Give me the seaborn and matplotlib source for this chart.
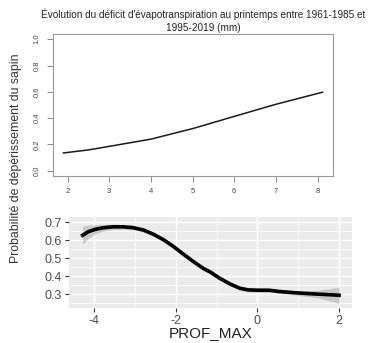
import numpy as np
import pandas as pd
import seaborn as sns
import matplotlib.pyplot as plt

# top panel : effet du deficit d'evapotranspiration
deficit_x = [1.9, 2.5, 3.0, 4.0, 5.0, 6.0, 7.0, 8.12]
deficit_p = [0.135, 0.158, 0.185, 0.24, 0.32, 0.413, 0.505, 0.597]
top_xticks = [2, 3, 4, 5, 6, 7, 8]
top_yticks = [0.0, 0.2, 0.4, 0.6, 0.8, 1.0]

# bottom panel : effet de PROF_MAX (lissage + intervalle)
prof_x = [-4.28, -4.14, -3.97, -3.77, -3.53, -3.28, -3.04, -2.79, -2.55, -2.30, -2.06,
          -1.82, -1.57, -1.33, -1.16, -0.92, -0.67, -0.43, -0.23, 0.0, 0.29, 0.53,
          0.86, 1.19, 1.51, 2.0]
prof_p = [0.627, 0.647, 0.66, 0.669, 0.674, 0.674, 0.669, 0.656, 0.633, 0.602, 0.565,
          0.523, 0.481, 0.443, 0.423, 0.387, 0.356, 0.332, 0.323, 0.321, 0.321, 0.314,
          0.308, 0.303, 0.299, 0.293]
prof_se = [0.05, 0.036, 0.025, 0.018, 0.015, 0.013, 0.012, 0.011, 0.011, 0.011, 0.011,
           0.011, 0.011, 0.011, 0.011, 0.011, 0.011, 0.011, 0.011, 0.011, 0.011, 0.011,
           0.012, 0.016, 0.022, 0.045]
bot_xticks = [-4, -2, 0, 2]
bot_yticks = [0.3, 0.4, 0.5, 0.6, 0.7]

plt.rcParams['font.family'] = ['Liberation Sans', 'DejaVu Sans']

top_df = pd.DataFrame({'x': deficit_x, 'p': deficit_p})
bot_df = pd.DataFrame({'x': prof_x, 'p': prof_p, 'se': prof_se})

fig = plt.figure(figsize=(3.72, 3.43), dpi=100)

# --- panneau du haut, style R base
ax1 = fig.add_axes([0.1425, 0.487, 0.7525, 0.414])
sns.lineplot(data=top_df, x='x', y='p', ax=ax1, color='#1a1a1a', linewidth=1.1)
ax1.set_xlim(1.65, 8.37)
ax1.set_ylim(-0.04, 1.04)
ax1.set_xticks(top_xticks)
ax1.set_yticks(top_yticks)
ax1.set_xticklabels([str(t) for t in top_xticks])
ax1.set_yticklabels([f'{t:.1f}' for t in top_yticks], rotation=90, va='center')
ax1.tick_params(direction='out', length=4, width=0.6, color='#777777',
                labelsize=5.5, labelcolor='#444444', pad=5)
for s in ax1.spines.values():
    s.set_color('#999999')
    s.set_linewidth(0.8)
ax1.set_xlabel('')
ax1.set_ylabel('')

# --- panneau du bas, style ggplot
ax2 = fig.add_axes([0.1855, 0.102, 0.7605, 0.265])
ax2.set_facecolor('#EBEBEB')
ax2.fill_between(bot_df['x'], bot_df['p'] - bot_df['se'], bot_df['p'] + bot_df['se'],
                 color='#999999', alpha=0.45, linewidth=0, zorder=2)
sns.lineplot(data=bot_df, x='x', y='p', ax=ax2, color='black', linewidth=2.6, zorder=3)
ax2.lines[-1].set_solid_joinstyle('round')
ax2.set_xlim(-4.615, 2.315)
ax2.set_ylim(0.222, 0.728)
ax2.set_xticks(bot_xticks)
ax2.set_yticks(bot_yticks)
ax2.set_xticks([-3, -1, 1], minor=True)
ax2.set_yticks([0.25, 0.35, 0.45, 0.55, 0.65], minor=True)
ax2.set_xticklabels([str(t) for t in bot_xticks])
ax2.set_yticklabels([f'{t:.1f}' for t in bot_yticks])
ax2.grid(True, which='major', color='white', linewidth=1.0, zorder=0)
ax2.grid(True, which='minor', color='white', linewidth=0.5, zorder=0)
ax2.set_axisbelow(True)
ax2.tick_params(which='major', direction='out', length=3, width=0.8, color='#333333',
                labelsize=9, labelcolor='#4D4D4D', pad=2)
ax2.tick_params(which='minor', length=0)
for s in ax2.spines.values():
    s.set_visible(False)
ax2.set_xlabel('')
ax2.set_ylabel('')
# titre de l'axe x place a la main pour ne pas couper le "_"
fig.text(0.5665, 1 - 337.0 / 343, 'PROF_MAX', ha='center', va='baseline',
         fontsize=11, color='#222222')

fig.text(0.546, 0.940, "Évolution du déficit d'évapotranspiration au printemps entre 1961-1985 et\n1995-2019 (mm)",
         ha='center', va='center', fontsize=7.2, color='#222222', linespacing=1.35)
fig.text(0.043, 0.539, 'Probabilité de dépérissement du sapin', rotation=90,
         ha='center', va='center', fontsize=8.8, color='#333333')

fig.savefig('out.png', dpi=100)
